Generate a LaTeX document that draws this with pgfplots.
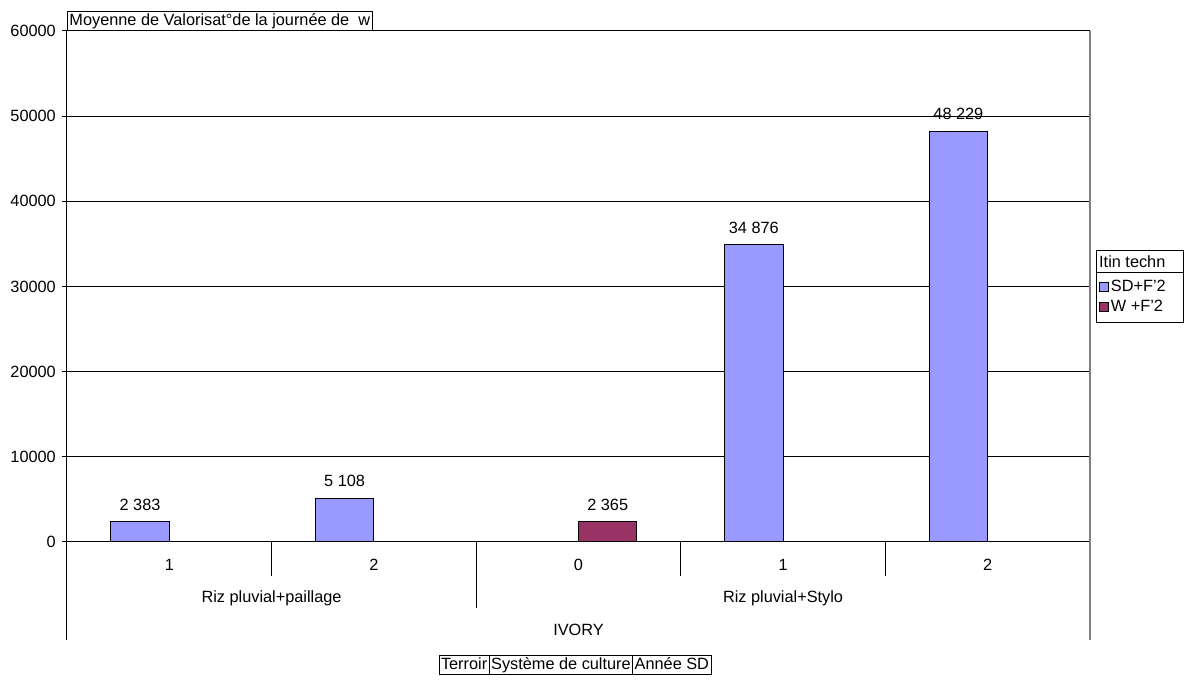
\documentclass[border=0pt]{standalone}
\usepackage{pgfplots}
\pgfplotsset{compat=1.18}
\usepackage{fontspec}
\setmainfont{Liberation Sans}

\definecolor{sdcol}{HTML}{9999FF}
\definecolor{wcol}{HTML}{993366}
\definecolor{rightline}{HTML}{808080}

% Average per category: SD+F'2 and W +F'2
\pgfplotstableread{
x  y
0  2383
1  5108
3  34876
4  48229
}\sdtable
\pgfplotstableread{
x  y
2  2365
}\wtable

\begin{document}
\begin{tikzpicture}[font=\fontsize{16.3}{19.5}\selectfont]
\begin{axis}[
  scale only axis,
  width=1023pt, height=511pt,
  xmin=-0.5, xmax=4.5,
  ymin=0, ymax=60000,
  clip=false,
  axis x line=bottom,
  axis y line=left,
  axis line style={-, black, line width=1pt},
  xtick=\empty,
  ytick={0,10000,...,60000},
  tick align=outside,
  major tick length=5pt,
  tick style={black, line width=1pt},
  yticklabel style={inner sep=0pt, xshift=-6pt},
  /pgf/number format/assume math mode=true,
  /pgf/number format/1000 sep={},
  scaled y ticks=false,
  ymajorgrids,
  major grid style={black, line width=1pt},
  ybar,
  bar width=0.286,
  nodes near coords={\pgfmathprintnumber[fixed,precision=0,1000 sep={\ },assume math mode=true]{\pgfplotspointmeta}},
  every node near coord/.append style={anchor=south, inner sep=0pt, yshift=11pt, black},
  legend style={at={(rel axis cs:1.0068,0.5205)}, anchor=north west, draw=none, fill=none,
    inner sep=2pt, row sep=3pt, font=\fontsize{16.3}{19.5}\selectfont},
  legend cell align=left,
  legend image code/.code={\draw[#1,draw=black,line width=0.8pt] (0pt,-4.5pt) rectangle (9pt,4.5pt);},
]
\addplot[fill=sdcol, draw=black, line width=1pt, bar shift=-0.143] table[x=x,y=y] {\sdtable};
\addlegendentry{SD+F'2}
\addplot[fill=wcol, draw=black, line width=1pt, bar shift=0.143] table[x=x,y=y] {\wtable};
\addlegendentry{W +F'2}

% category separators below the axis
\draw[black, line width=1pt] (axis cs:0.5,0) -- ([yshift=-34pt]axis cs:0.5,0);
\draw[black, line width=1pt] (axis cs:2.5,0) -- ([yshift=-34pt]axis cs:2.5,0);
\draw[black, line width=1pt] (axis cs:3.5,0) -- ([yshift=-34pt]axis cs:3.5,0);
\draw[black, line width=1pt] (axis cs:1.5,0) -- ([yshift=-66pt]axis cs:1.5,0);
\draw[black, line width=1pt] (axis cs:-0.5,0) -- ([yshift=-98pt]axis cs:-0.5,0);
\draw[rightline, line width=1.5pt] (axis cs:4.5,60000) -- ([yshift=-98pt]axis cs:4.5,0);

% category labels
\node[inner sep=0pt] at ([yshift=-23pt]axis cs:0,0) {1};
\node[inner sep=0pt] at ([yshift=-23pt]axis cs:1,0) {2};
\node[inner sep=0pt] at ([yshift=-23pt]axis cs:2,0) {0};
\node[inner sep=0pt] at ([yshift=-23pt]axis cs:3,0) {1};
\node[inner sep=0pt] at ([yshift=-23pt]axis cs:4,0) {2};
\node[inner sep=0pt] at ([yshift=-56pt]axis cs:0.5,0) {Riz pluvial+paillage};
\node[inner sep=0pt] at ([yshift=-56pt]axis cs:3,0) {Riz pluvial+Stylo};
\node[inner sep=0pt] at ([yshift=-88pt]axis cs:2,0) {IVORY};

% title field button
\node[draw=black, line width=1pt, anchor=south west, inner xsep=2pt, inner ysep=2pt]
  at (rel axis cs:0,1) {Moyenne de Valorisat°de la journée de\ \ w};

% legend frame and header
\draw[black, line width=1pt] (1029pt,291pt) rectangle (1116pt,219pt);
\draw[black, line width=1pt] (1029pt,269pt) -- (1116pt,269pt);
\node[anchor=west, inner sep=0pt] at (1032pt,280pt) {Itin techn};
\end{axis}

% row field buttons
\begin{scope}[every node/.style={draw=black, line width=1pt, outer sep=0pt, inner xsep=2pt, inner ysep=2pt, text height=12pt, text depth=3.5pt}]
\node[anchor=west] (t1) at (372pt,-123pt) {Terroir};
\node[anchor=west] (t2) at (t1.east) {Système de culture};
\node[anchor=west] (t3) at (t2.east) {Année SD};
\end{scope}

\pgfresetboundingbox
\useasboundingbox (-67pt,-142pt) rectangle (1119pt,542pt);
\end{tikzpicture}
\end{document}
